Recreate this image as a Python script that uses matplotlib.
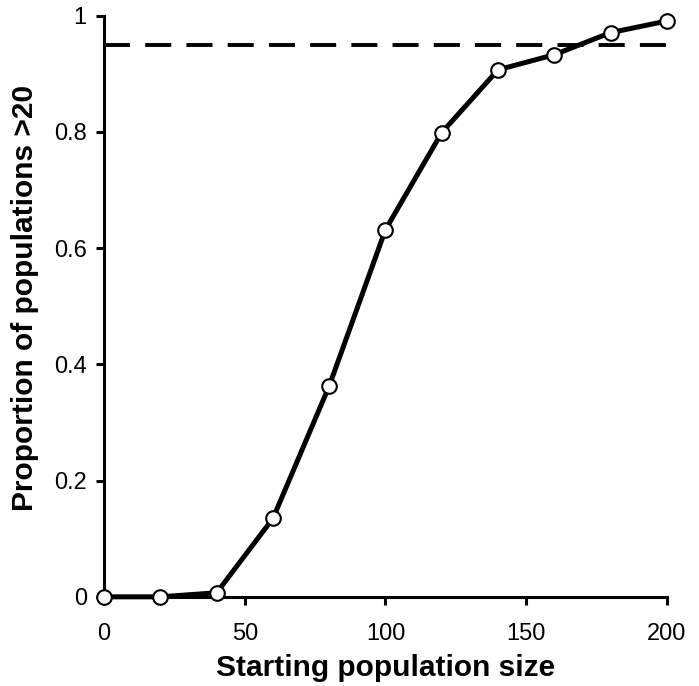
import matplotlib
matplotlib.use("Agg")
import matplotlib.pyplot as plt

plt.rcParams['font.family'] = ['Liberation Sans', 'DejaVu Sans']

start_size = [0, 20, 40, 60, 80, 100, 120, 140, 160, 180, 200]
prop_over_20 = [0.0, 0.0, 0.007, 0.135, 0.363, 0.632, 0.799, 0.907, 0.933, 0.971, 0.991]
threshold = 0.95

x_ticks = [0, 50, 100, 150, 200]
y_ticks = [0, 0.2, 0.4, 0.6, 0.8, 1]
y_tick_labels = ["0", "0.2", "0.4", "0.6", "0.8", "1"]

fig = plt.figure(figsize=(6.99, 6.86), dpi=100)
ax = fig.add_axes([0.149, 0.130, 0.805, 0.847])

ax.plot([0, 200], [threshold, threshold], color='black', lw=2.8,
        linestyle=(0, (6.7, 3.9)), zorder=2)
ax.plot(start_size, prop_over_20, color='black', lw=3.6, marker='o',
        markersize=10.5, markerfacecolor='white', markeredgecolor='black',
        markeredgewidth=1.5, zorder=3, clip_on=False)

ax.set_xlim(0, 200)
ax.set_ylim(0, 1)
ax.set_xticks(x_ticks)
ax.set_yticks(y_ticks)
ax.set_yticklabels(y_tick_labels)

for side in ['top', 'right']:
    ax.spines[side].set_visible(False)
for side in ['left', 'bottom']:
    ax.spines[side].set_linewidth(2.2)
ax.tick_params(direction='out', length=5.5, width=2.2, labelsize=17)
ax.tick_params(axis='x', pad=13)
ax.tick_params(axis='y', pad=7)

ax.set_xlabel("Starting population size", fontsize=21.5, fontweight='bold', labelpad=7)
ax.set_ylabel("Proportion of populations >20", fontsize=21.5, fontweight='bold')
ax.yaxis.set_label_coords(-0.115, 0.514)

fig.savefig("out.png", dpi=100)
